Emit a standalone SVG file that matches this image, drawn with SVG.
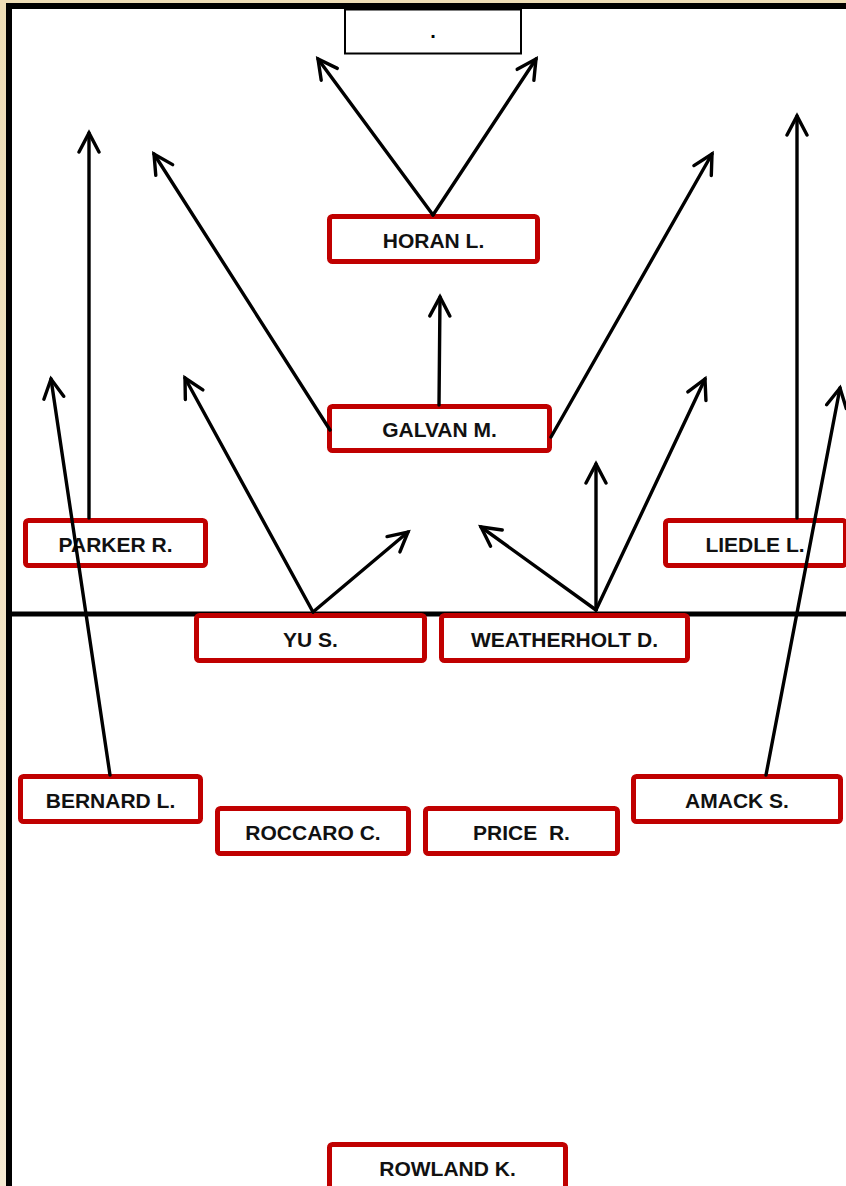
<svg xmlns="http://www.w3.org/2000/svg" width="846" height="1186" viewBox="0 0 846 1186">
<style>
.node rect{fill:#fff;stroke:#C00000;stroke-width:5}
.node text{font-family:"Liberation Sans",Arial,sans-serif;font-weight:bold;font-size:21px;fill:#111;text-anchor:middle;dominant-baseline:central;white-space:pre}
.conn line{stroke:#000;stroke-width:3.4;stroke-linecap:round;marker-end:url(#ah)}
</style>
<defs>
<linearGradient id="bg" x1="0" y1="0" x2="0" y2="1">
<stop offset="0" stop-color="#EEDDB6"/>
<stop offset="1" stop-color="#F6EAD2"/>
</linearGradient>
<marker id="ah" markerUnits="userSpaceOnUse" viewBox="-22 -12 26 24" refX="0" refY="0" markerWidth="26" markerHeight="24" orient="auto">
<path d="M-19,-10 L0,0 L-19,10" fill="none" stroke="#000" stroke-width="3.4" stroke-linecap="round" stroke-linejoin="miter"/>
</marker>
</defs>
<rect x="0" y="0" width="846" height="1186" fill="url(#bg)"/>
<rect x="9" y="6" width="850" height="1200" fill="#fff" stroke="#000" stroke-width="6"/>
<line x1="12" y1="614" x2="846" y2="614" stroke="#000" stroke-width="5"/>
<g id="goal">
<rect x="345" y="9.5" width="176" height="44" fill="#fff" stroke="#000" stroke-width="2"/>
<text x="433" y="31" font-family="Liberation Sans, Arial, sans-serif" font-weight="bold" font-size="20" text-anchor="middle" dominant-baseline="central">.</text>
</g>
<g class="node" id="horan"><rect x="329.5" y="216.5" width="208" height="45" rx="3"/><text x="433.5" y="240">HORAN L.</text></g>
<g class="node" id="galvan"><rect x="329.5" y="406.5" width="220" height="44" rx="3"/><text x="439.5" y="429">GALVAN M.</text></g>
<g class="node" id="parker"><rect x="25.5" y="520.5" width="180" height="45" rx="3"/><text x="115.5" y="544">PARKER R.</text></g>
<g class="node" id="liedle"><rect x="665.5" y="520.5" width="180" height="45" rx="3"/><text x="755" y="544">LIEDLE L.</text></g>
<g class="node" id="yu"><rect x="196.5" y="615.5" width="228" height="45" rx="3"/><text x="310.5" y="639">YU S.</text></g>
<g class="node" id="weatherholt"><rect x="441.5" y="615.5" width="246" height="45" rx="3"/><text x="564.5" y="639">WEATHERHOLT D.</text></g>
<g class="node" id="bernard"><rect x="20.5" y="776.5" width="180" height="45" rx="3"/><text x="110.5" y="800">BERNARD L.</text></g>
<g class="node" id="amack"><rect x="633.5" y="776.5" width="207" height="45" rx="3"/><text x="737" y="800">AMACK S.</text></g>
<g class="node" id="roccaro"><rect x="217.5" y="808.5" width="191" height="45" rx="3"/><text x="313" y="832">ROCCARO C.</text></g>
<g class="node" id="price"><rect x="425.5" y="808.5" width="192" height="45" rx="3"/><text x="521.5" y="832">PRICE  R.</text></g>
<g class="node" id="rowland"><rect x="329.5" y="1144.5" width="236" height="45" rx="3"/><text x="447.5" y="1168">ROWLAND K.</text></g>
<g class="conn" id="connectors">
<line x1="433" y1="215" x2="318" y2="59"/>
<line x1="433" y1="215" x2="536" y2="59"/>
<line x1="89" y1="518" x2="89" y2="133"/>
<line x1="330" y1="430" x2="154" y2="154"/>
<line x1="439" y1="405" x2="440" y2="297"/>
<line x1="551" y1="437" x2="712" y2="154"/>
<line x1="797" y1="518" x2="797" y2="116"/>
<line x1="110" y1="775" x2="51" y2="379"/>
<line x1="313" y1="612" x2="185" y2="378"/>
<line x1="313" y1="612" x2="408" y2="532"/>
<line x1="596" y1="610" x2="481" y2="527"/>
<line x1="596" y1="610" x2="596" y2="464"/>
<line x1="596" y1="610" x2="705" y2="379"/>
<line x1="766" y1="775" x2="840" y2="388"/>
</g>
</svg>
